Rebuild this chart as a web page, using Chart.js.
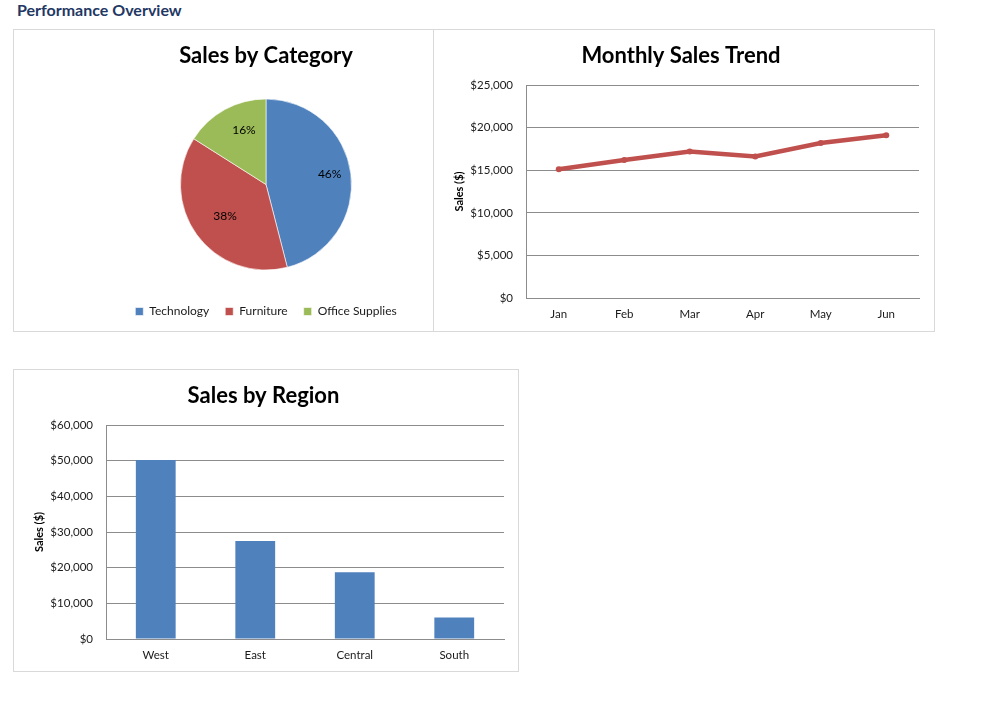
<!DOCTYPE html>
<html>
<head>
<meta charset="utf-8">
<title>Performance Overview</title>
<script src="https://cdn.jsdelivr.net/npm/chart.js@4.4.1/dist/chart.umd.min.js"></script>
<style>
  html, body { margin: 0; padding: 0; background: #fff; }
  body { width: 984px; height: 725px; position: relative; overflow: hidden; font-family: Lato, "Open Sans", sans-serif; }
  h1 { position: absolute; left: 17px; top: 0px; margin: 0; font-size: 16px; line-height: 20px; font-weight: bold; color: #1f3864; }
  .panel { position: absolute; box-sizing: border-box; border: 1px solid #d9d9d9; background: #fff; }
  .panel canvas { position: absolute; left: -1px; top: -1px; }
</style>
</head>
<body>
<h1>Performance Overview</h1>
<div class="panel" style="left:13px; top:29px; width:506px; height:303px; z-index:1;"><canvas id="pie" width="506" height="302"></canvas></div>
<div class="panel" style="left:433px; top:29px; width:502px; height:303px; z-index:2;"><canvas id="line" width="501" height="302"></canvas></div>
<div class="panel" style="left:13px; top:369px; width:506px; height:303px; z-index:1;"><canvas id="bar" width="506" height="302"></canvas></div>

<script>
// data
const categories = ['Technology', 'Furniture', 'Office Supplies'];
const categorySales = [47100, 38900, 16400];

const months = ['Jan', 'Feb', 'Mar', 'Apr', 'May', 'Jun'];
const monthlySales = [15100, 16200, 17200, 16600, 18200, 19100];

const regions = ['West', 'East', 'Central', 'South'];
const regionSales = [50200, 27500, 18700, 6000];

const FONT = 'Lato';
const GRID = '#8c8c8c';
Chart.defaults.font.family = FONT;
Chart.defaults.color = '#1a1a1a';
Chart.defaults.animation = false;

const money = v => '$' + Number(v).toLocaleString('en-US');

const titleOpts = text => ({
  display: true,
  text: text,
  color: '#000',
  font: { size: 22, weight: 'bold' },
  padding: { top: 14, bottom: 15.6 }
});

// percent labels inside the pie slices (Excel puts them a bit up and right)
const pctLabels = {
  id: 'pctLabels',
  afterDatasetsDraw(chart) {
    const ctx = chart.ctx;
    const data = chart.data.datasets[0].data;
    const total = data.reduce((a, b) => a + b, 0);
    ctx.save();
    ctx.font = '12px ' + FONT;
    ctx.fillStyle = '#000';
    ctx.textAlign = 'center';
    ctx.textBaseline = 'middle';
    chart.getDatasetMeta(0).data.forEach((arc, i) => {
      const p = arc.getProps(['x', 'y', 'startAngle', 'endAngle', 'outerRadius'], true);
      const mid = (p.startAngle + p.endAngle) / 2;
      const r = p.outerRadius * 0.68;
      ctx.fillText(Math.round(data[i] / total * 100) + '%', p.x + Math.cos(mid) * r + 6, p.y + Math.sin(mid) * r - 3);
    });
    ctx.restore();
  }
};

new Chart(document.getElementById('pie'), {
  type: 'pie',
  data: {
    labels: categories,
    datasets: [{
      data: categorySales,
      backgroundColor: ['#4f81bd', '#c0504d', '#9bbb59'],
      borderColor: 'rgba(255,255,255,0.6)',
      borderWidth: 1,
      radius: 85.5
    }]
  },
  options: {
    responsive: false,
    layout: { padding: { bottom: 3.5 } },
    plugins: {
      title: Object.assign(titleOpts('Sales by Category'), { padding: { top: 14, bottom: 10.1 } }),
      legend: {
        position: 'bottom',
        labels: { boxWidth: 8, boxHeight: 8, padding: 16, font: { size: 12 }, color: '#1a1a1a' }
      },
      tooltip: { enabled: false }
    }
  },
  plugins: [pctLabels]
});

function cartesian(id, type, labels, values, title, max, step, axisHeight, dataset) {
  return new Chart(document.getElementById(id), {
    type: type,
    data: { labels: labels, datasets: [Object.assign({ data: values }, dataset)] },
    options: {
      responsive: false,
      layout: { padding: { left: 10, right: 15, top: 0, bottom: 0 } },
      plugins: { title: titleOpts(title), legend: { display: false }, tooltip: { enabled: false } },
      scales: {
        x: {
          offset: true,
          grid: { display: false },
          border: { display: true, color: GRID },
          ticks: { padding: 1.5, font: { size: 11.5 }, color: '#1a1a1a' },
          afterFit: s => { s.height = axisHeight; }
        },
        y: {
          min: 0, max: max,
          grid: { color: GRID, drawTicks: false },
          border: { display: true, color: GRID },
          ticks: { stepSize: step, padding: 13, font: { size: 11.5 }, color: '#1a1a1a', callback: money },
          title: { display: true, text: 'Sales ($)', color: '#000', font: { size: 11, weight: 'bold' }, padding: { top: 10, bottom: 0 } },
          afterFit: s => { s.width = 83; }
        }
      }
    }
  });
}

cartesian('line', 'line', months, monthlySales, 'Monthly Sales Trend', 25000, 5000, 33, {
  borderColor: '#c0504d',
  backgroundColor: '#c0504d',
  borderWidth: 4.5,
  pointRadius: 3,
  pointBorderWidth: 0,
  tension: 0
});

cartesian('bar', 'bar', regions, regionSales, 'Sales by Region', 60000, 10000, 32, {
  backgroundColor: '#4f81bd',
  barPercentage: 0.4,
  categoryPercentage: 1.0
});
</script>
</body>
</html>
